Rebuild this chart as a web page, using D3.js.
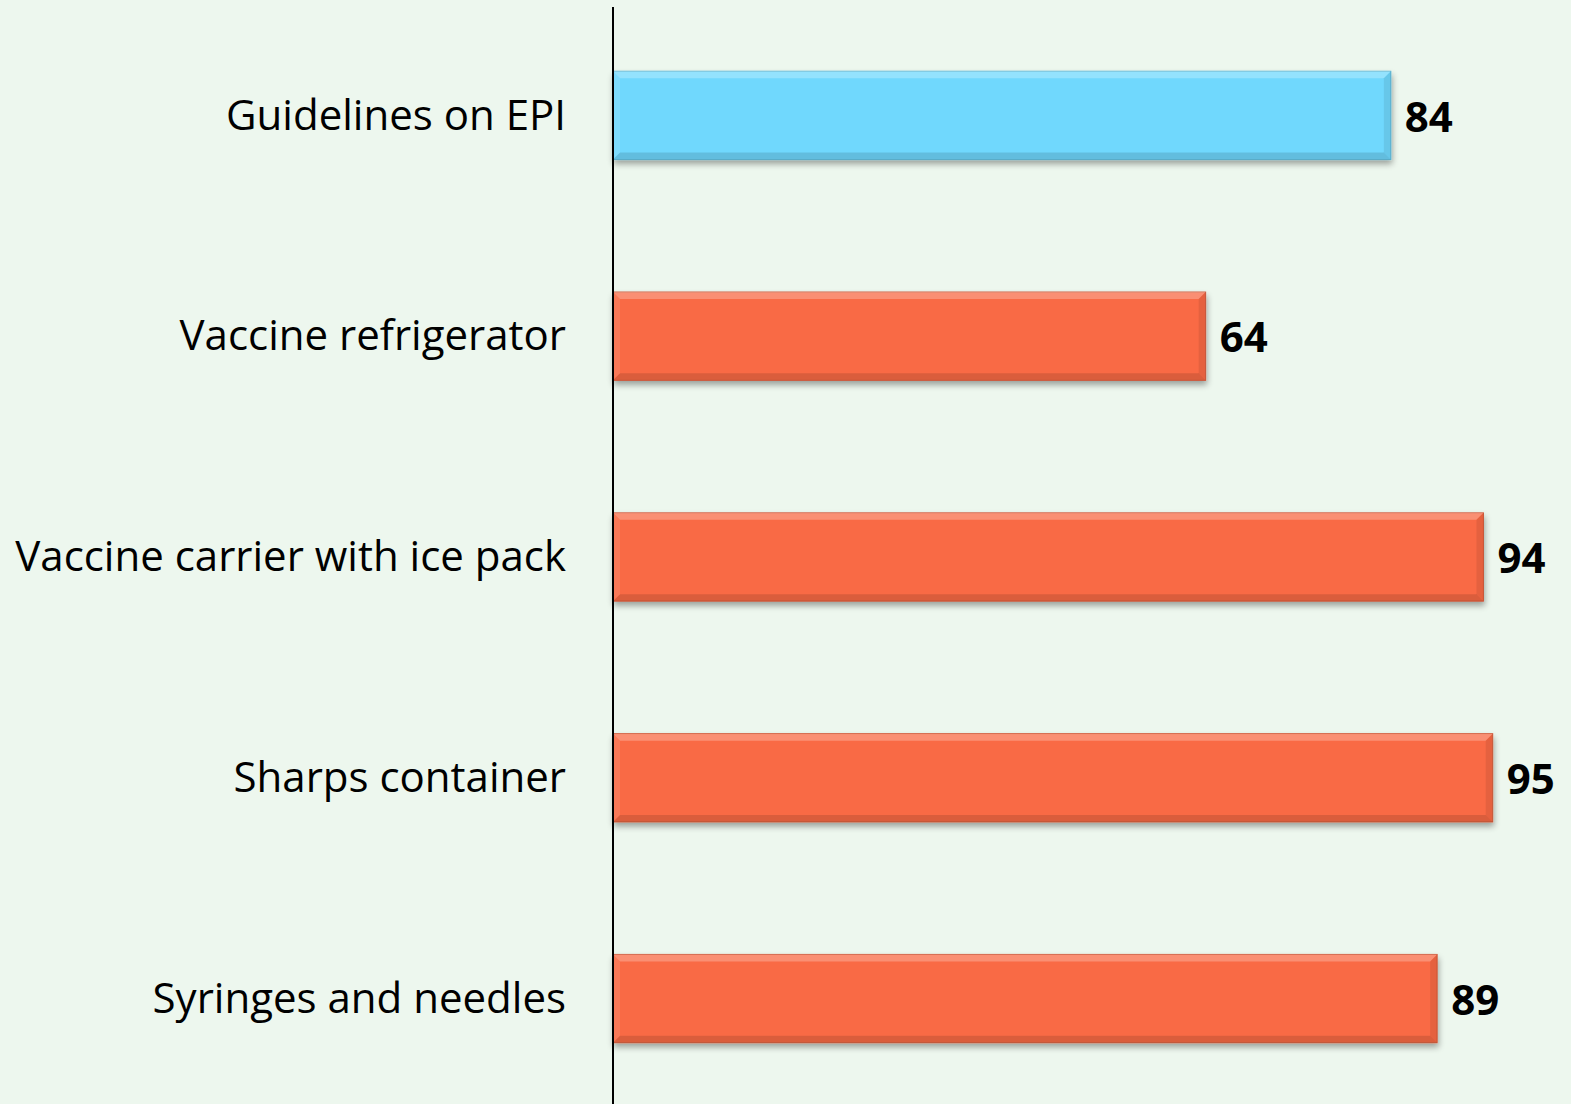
<!DOCTYPE html>
<html>
<head>
<meta charset="utf-8">
<script src="https://cdnjs.cloudflare.com/ajax/libs/d3/7.8.5/d3.min.js"></script>
<style>
  html, body { margin: 0; padding: 0; background: #edf7ee; }
  svg { display: block; }
  .cat { font-family: "Open Sans", "Noto Sans", sans-serif; font-size: 42px; fill: #000; }
  .val { font-family: "Open Sans", "Noto Sans", sans-serif; font-size: 42px; font-weight: bold; fill: #000; }
</style>
</head>
<body>
<div id="chart"></div>
<script>
// data
var categories = ["Guidelines on EPI", "Vaccine refrigerator", "Vaccine carrier with ice pack", "Sharps container", "Syringes and needles"];
var values = [84, 64, 94, 95, 89];
var barColors = ["#6fd8fd", "#f96a45", "#f96a45", "#f96a45", "#f96a45"];

var W = 1571, H = 1104;
var margin = { top: 5, right: 32, bottom: 0, left: 613 };

var svg = d3.select("#chart").append("svg")
    .attr("width", W)
    .attr("height", H);

svg.append("rect").attr("width", W).attr("height", H).attr("fill", "#edf7ee");

var x = d3.scaleLinear()
    .domain([0, 100])
    .range([margin.left, W - margin.right]);

var y = d3.scaleBand()
    .domain(categories)
    .range([margin.top, H + 5])
    .paddingInner(0.6)
    .paddingOuter(0.3);

var defs = svg.append("defs");
var f = defs.append("filter").attr("id", "shadow").attr("x", "-5%").attr("y", "-20%").attr("width", "110%").attr("height", "150%");
f.append("feGaussianBlur").attr("in", "SourceAlpha").attr("stdDeviation", 3);
f.append("feOffset").attr("dx", 1).attr("dy", 4).attr("result", "ob");
f.append("feComponentTransfer").append("feFuncA").attr("type", "linear").attr("slope", 0.35);
var m = f.append("feMerge");
m.append("feMergeNode");
m.append("feMergeNode").attr("in", "SourceGraphic");

var bars = svg.selectAll(".bar")
    .data(categories)
    .enter()
    .append("g")
    .attr("class", "bar");

var bw = 7; // bevel width

bars.append("rect")
    .attr("x", x(0))
    .attr("y", function (d) { return y(d); })
    .attr("width", function (d, i) { return x(values[i]) - x(0); })
    .attr("height", y.bandwidth())
    .attr("fill", function (d, i) { return barColors[i]; })
    .attr("stroke", function (d, i) { return d3.color(barColors[i]).darker(0.5); })
    .attr("stroke-width", 1)
    .attr("filter", "url(#shadow)");

// top bevel (light)
bars.append("path")
    .attr("d", function (d, i) {
        var x0 = x(0), x1 = x(values[i]), y0 = y(d);
        return "M" + x0 + "," + y0 + "L" + x1 + "," + y0 + "L" + (x1 - bw) + "," + (y0 + bw) + "L" + (x0 + bw) + "," + (y0 + bw) + "Z";
    })
    .attr("fill", "#fff").attr("opacity", 0.25);

// left bevel
bars.append("path")
    .attr("d", function (d, i) {
        var x0 = x(0), y0 = y(d), y1 = y0 + y.bandwidth();
        return "M" + x0 + "," + y0 + "L" + (x0 + bw) + "," + (y0 + bw) + "L" + (x0 + bw) + "," + (y1 - bw) + "L" + x0 + "," + y1 + "Z";
    })
    .attr("fill", "#fff").attr("opacity", 0.1);

// right bevel (dark)
bars.append("path")
    .attr("d", function (d, i) {
        var x1 = x(values[i]), y0 = y(d), y1 = y0 + y.bandwidth();
        return "M" + x1 + "," + y0 + "L" + x1 + "," + y1 + "L" + (x1 - bw) + "," + (y1 - bw) + "L" + (x1 - bw) + "," + (y0 + bw) + "Z";
    })
    .attr("fill", "#000").attr("opacity", 0.08);

// bottom bevel (dark)
bars.append("path")
    .attr("d", function (d, i) {
        var x0 = x(0), x1 = x(values[i]), y1 = y(d) + y.bandwidth();
        return "M" + x0 + "," + y1 + "L" + x1 + "," + y1 + "L" + (x1 - bw) + "," + (y1 - bw) + "L" + (x0 + bw) + "," + (y1 - bw) + "Z";
    })
    .attr("fill", "#000").attr("opacity", 0.12);

// value labels
bars.append("text")
    .attr("class", "val")
    .attr("x", function (d, i) { return x(values[i]) + 14; })
    .attr("y", function (d) { return y(d) + y.bandwidth() / 2 + 5; })
    .attr("dominant-baseline", "middle")
    .text(function (d, i) { return values[i]; });

// category labels
svg.selectAll(".cat")
    .data(categories)
    .enter()
    .append("text")
    .attr("class", "cat")
    .attr("x", 566)
    .attr("y", function (d) { return y(d) + y.bandwidth() / 2 + 3; })
    .attr("text-anchor", "end")
    .attr("dominant-baseline", "middle")
    .text(function (d) { return d; });

// axis line
svg.append("line")
    .attr("x1", x(0)).attr("x2", x(0))
    .attr("y1", 7).attr("y2", H)
    .attr("stroke", "#000")
    .attr("stroke-width", 2);
</script>
</body>
</html>
